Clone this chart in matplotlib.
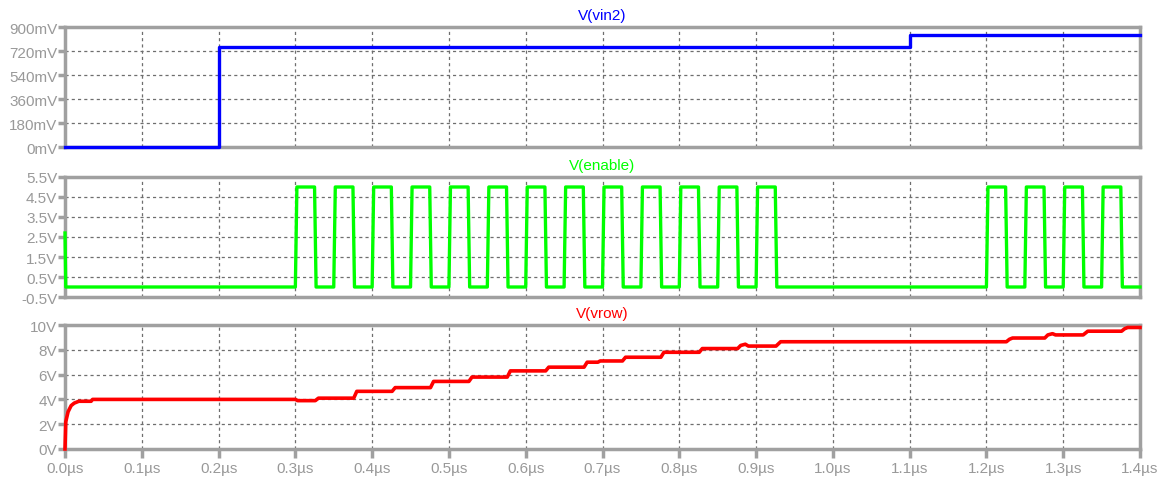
import matplotlib
matplotlib.use("Agg")
import matplotlib.pyplot as plt

# ---- data (time in microseconds) ----
vin2_t = [0.0, 0.2, 0.2, 1.1, 1.1, 1.4]
vin2_mv = [0, 0, 750, 750, 840, 840]

enable_rise = [0.30, 0.35, 0.40, 0.45, 0.50, 0.55, 0.60, 0.65, 0.70, 0.75, 0.80, 0.85, 0.90,
               1.20, 1.25, 1.30, 1.35]
enable_fall = [0.325, 0.375, 0.425, 0.475, 0.525, 0.575, 0.625, 0.675, 0.725, 0.775, 0.825,
               0.875, 0.925, 1.225, 1.275, 1.325, 1.375]
enable_start_v = 2.7
enable_low = 0.0
enable_high = 5.0

vrow_t = [0.0, 0.001, 0.004, 0.008, 0.012, 0.018, 0.034, 0.036, 0.300, 0.303, 0.326, 0.330,
          0.376, 0.380, 0.426, 0.430, 0.476, 0.480, 0.526, 0.530, 0.576, 0.580, 0.626, 0.630,
          0.676, 0.680, 0.694, 0.697, 0.726, 0.730, 0.776, 0.780, 0.826, 0.830, 0.876, 0.880,
          0.886, 0.890, 0.926, 0.932, 1.226, 1.230, 1.234, 1.276, 1.280, 1.286, 1.290, 1.326,
          1.332, 1.376, 1.380, 1.384, 1.400]
vrow_v = [0.0, 2.2, 3.0, 3.5, 3.7, 3.85, 3.85, 4.0, 4.0, 3.9, 3.9, 4.1,
          4.1, 4.65, 4.65, 4.95, 4.95, 5.45, 5.45, 5.8, 5.8, 6.3, 6.3, 6.6,
          6.6, 7.0, 7.0, 7.1, 7.1, 7.4, 7.4, 7.8, 7.8, 8.1, 8.1, 8.35,
          8.45, 8.3, 8.3, 8.65, 8.65, 8.85, 8.95, 8.95, 9.2, 9.3, 9.2, 9.2,
          9.5, 9.5, 9.7, 9.8, 9.8]

x_ticks = [0.0, 0.1, 0.2, 0.3, 0.4, 0.5, 0.6, 0.7, 0.8, 0.9, 1.0, 1.1, 1.2, 1.3, 1.4]
x_labels = ["0.0µs", "0.1µs", "0.2µs", "0.3µs", "0.4µs", "0.5µs", "0.6µs", "0.7µs",
            "0.8µs", "0.9µs", "1.0µs", "1.1µs", "1.2µs", "1.3µs", "1.4µs"]
vin2_ticks = [0, 180, 360, 540, 720, 900]
vin2_labels = ["0mV", "180mV", "360mV", "540mV", "720mV", "900mV"]
enable_ticks = [-0.5, 0.5, 1.5, 2.5, 3.5, 4.5, 5.5]
enable_labels = ["-0.5V", "0.5V", "1.5V", "2.5V", "3.5V", "4.5V", "5.5V"]
vrow_ticks = [0, 2, 4, 6, 8, 10]
vrow_labels = ["0V", "2V", "4V", "6V", "8V", "10V"]

# ---- build the enable pulse train from its edge times ----
edge = 0.002
en_t = [0.0, 0.001]
en_v = [enable_start_v, enable_low]
for r, f in zip(enable_rise, enable_fall):
    en_t += [r, r + edge, f, f + edge]
    en_v += [enable_low, enable_high, enable_high, enable_low]
en_t.append(1.4)
en_v.append(enable_low)

# ---- styling ----
FONT = ["Liberation Sans", "DejaVu Sans"]
FRAME = "#a0a0a0"
LABEL = "#999999"
GRID = "#6e6e6e"
FS = 11

W, H = 1171, 489
fig = plt.figure(figsize=(W / 100, H / 100), dpi=100)
fig.patch.set_facecolor("white")

left = 65 / W
width = (1140 - 65) / W


def make_axes(top_px, bot_px):
    return fig.add_axes([left, (H - bot_px) / H, width, (bot_px - top_px) / H])


ax1 = make_axes(28, 148)
ax2 = make_axes(178, 298)
ax3 = make_axes(326, 450)


def style(ax, yticks, ylabels, ylim, title, color, show_x):
    ax.set_xlim(0, 1.4)
    ax.set_ylim(*ylim)
    ax.set_xticks(x_ticks)
    ax.set_yticks(yticks)
    ax.set_yticklabels(ylabels, family=FONT, fontsize=FS, color=LABEL)
    if show_x:
        ax.set_xticklabels(x_labels, family=FONT, fontsize=FS, color=LABEL)
        ax.tick_params(axis="x", length=6.5, width=2.5, color=FRAME, pad=2)
    else:
        ax.set_xticklabels([])
        ax.tick_params(axis="x", length=0)
    ax.tick_params(axis="y", length=5, width=2.5, color=FRAME, pad=0.5)
    for s in ax.spines.values():
        s.set_color(FRAME)
        s.set_linewidth(2.5)
    ax.grid(True, color=GRID, linestyle=(0, (2.5, 2.5)), linewidth=0.9)
    ax.set_axisbelow(True)
    ax.annotate(title, xy=(0.5, 1.0), xycoords="axes fraction",
                xytext=(0, 8.5), textcoords="offset points",
                ha="center", va="center", color=color, family=FONT, fontsize=FS)


style(ax1, vin2_ticks, vin2_labels, (0, 900), "V(vin2)", "#0000ff", False)
style(ax2, enable_ticks, enable_labels, (-0.5, 5.5), "V(enable)", "#00ff00", False)
style(ax3, vrow_ticks, vrow_labels, (0, 10), "V(vrow)", "#ff0000", True)

ax1.plot(vin2_t, vin2_mv, color="#0000ff", linewidth=2.4, clip_on=False, zorder=3)
ax2.plot(en_t, en_v, color="#00ff00", linewidth=2.4, clip_on=False, zorder=3)
ax3.plot(vrow_t, vrow_v, color="#ff0000", linewidth=2.6, clip_on=False, zorder=3)

fig.savefig("out.png", dpi=100, facecolor="white")
